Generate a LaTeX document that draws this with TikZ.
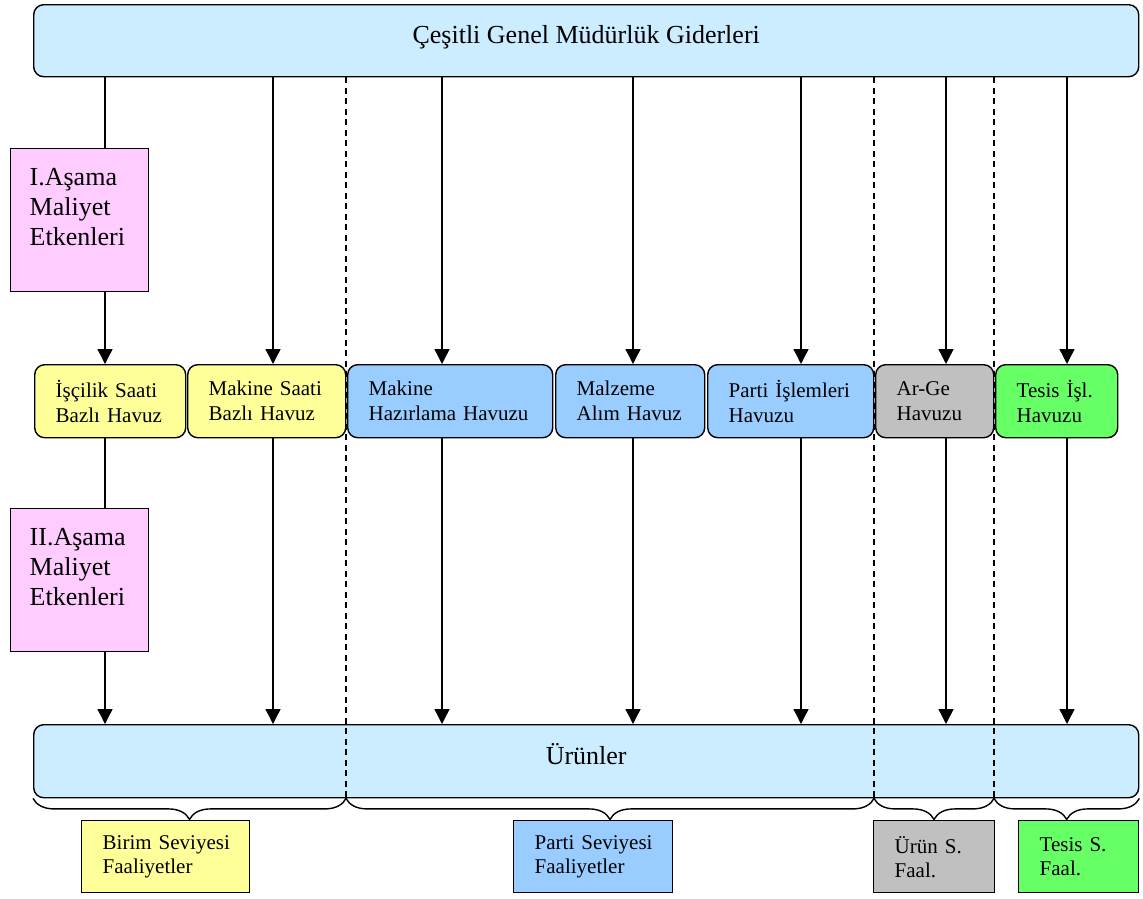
\documentclass[tikz,border=0pt]{standalone}
\usepackage{fontspec}
\setmainfont{Liberation Serif}
\usetikzlibrary{arrows.meta,decorations.pathreplacing}

\definecolor{barblue}{HTML}{CCECFF}
\definecolor{poolyellow}{HTML}{FFFF99}
\definecolor{poolblue}{HTML}{99CCFF}
\definecolor{poolgray}{HTML}{C0C0C0}
\definecolor{poolgreen}{HTML}{66FF66}
\definecolor{stagepink}{HTML}{FFCCFF}

\tikzset{
  outline/.style={draw=black, line width=1.4pt},
  bar/.style={outline, fill=barblue, rounded corners=10pt, anchor=north west,
    minimum width=1105pt, inner sep=0pt, font=\fontsize{26}{30}\selectfont},
  pool/.style={outline, rounded corners=10pt, anchor=north west, align=left,
    minimum height=73pt, inner xsep=21pt, inner ysep=0pt,
    font=\fontsize{21}{25}\selectfont},
  stagebox/.style={outline, fill=stagepink, anchor=north west,
    inner xsep=19pt, inner ysep=20pt, font=\fontsize{26}{30}\selectfont},
  levelbox/.style={outline, anchor=north west, align=left,
    minimum height=72pt, inner xsep=21pt, inner ysep=0pt,
    font=\fontsize{21}{24}\selectfont},
  conn/.style={line width=1.4pt},
  arr/.style={conn, -{Triangle[width=15pt,length=15pt]}},
  divider/.style={line width=1.3pt, dash pattern=on 6pt off 4.5pt},
  brace/.style={line width=1.4pt, decorate,
    decoration={brace, mirror, amplitude=21pt}},
}

\begin{document}
\begin{tikzpicture}[x=1pt,y=-1pt]
\useasboundingbox (0,0) rectangle (1143,898);

% arrow columns and section dividers
\coordinate (a1) at (105,0);
\coordinate (a2) at (273,0);
\coordinate (a3) at (442,0);
\coordinate (a4) at (633,0);
\coordinate (a5) at (801,0);
\coordinate (a6) at (946,0);
\coordinate (a7) at (1067,0);
\coordinate (d1) at (346,0);
\coordinate (d2) at (874,0);
\coordinate (d3) at (994,0);

% top and bottom bars
\node[bar, minimum height=72pt] (gen) at (33,4)
  {\raisebox{12pt}{Çeşitli Genel Müdürlük Giderleri}};
\node[bar, minimum height=73pt] (urun) at (33,724)
  {\raisebox{15pt}{Ürünler}};

% dashed section dividers
\draw[divider] (gen.south -| d1) -- (urun.south -| d1);
\draw[divider] (gen.south -| d2) -- (urun.south -| d2);
\draw[divider] (gen.south -| d3) -- (urun.south -| d3);

% cost driver stages
\node[stagebox] (s1) at (10,148)
  {\parbox[c][103pt][t]{100pt}{\raggedright I.Aşama\\Maliyet\\Etkenleri}};
\node[stagebox] (s2) at (10,508)
  {\parbox[c][103pt][t]{100pt}{\raggedright II.Aşama\\Maliyet\\Etkenleri}};

% cost pools
\node[pool, fill=poolyellow, text width=109pt] (p1) at (34,364)
  {\mbox{İşçilik Saati}\\\mbox{Bazlı Havuz}};
\node[pool, fill=poolyellow, text width=116pt] (p2) at (187,364)
  {\mbox{Makine Saati}\\\mbox{Bazlı Havuz}};
\node[pool, fill=poolblue, text width=163pt] (p3) at (347,364)
  {Makine\\\mbox{Hazırlama Havuzu}};
\node[pool, fill=poolblue, text width=107pt] (p4) at (555,364)
  {Malzeme\\\mbox{Alım Havuz}};
\node[pool, fill=poolblue, text width=124pt] (p5) at (707,364)
  {\mbox{Parti İşlemleri}\\Havuzu};
\node[pool, fill=poolgray, text width=76pt] (p6) at (875,364)
  {Ar-Ge\\Havuzu};
\node[pool, fill=poolgreen, text width=80pt] (p7) at (995,364)
  {\mbox{Tesis İşl.}\\Havuzu};

% activity levels
\node[levelbox, fill=poolyellow, text width=126pt] (l1) at (81,820)
  {\mbox{Birim Seviyesi}\\Faaliyetler};
\node[levelbox, fill=poolblue, text width=117pt] (l2) at (513,820)
  {\mbox{Parti Seviyesi}\\Faaliyetler};
\node[levelbox, fill=poolgray, text width=79pt] (l3) at (873,820)
  {\mbox{Ürün S.}\\Faal.};
\node[levelbox, fill=poolgreen, text width=78pt] (l4) at (1018,820)
  {\mbox{Tesis S.}\\Faal.};

% first column passes through both stage boxes
\draw[conn] (gen.south -| a1) -- (s1.north -| a1);
\draw[arr]  (s1.south -| a1) -- (p1.north -| a1);
\draw[conn] (p1.south -| a1) -- (s2.north -| a1);
\draw[arr]  (s2.south -| a1) -- (urun.north -| a1);

% remaining columns
\foreach \i in {2,...,7} {
  \draw[arr] (gen.south -| a\i) -- (p\i.north -| a\i);
  \draw[arr] (p\i.south -| a\i) -- (urun.north -| a\i);
}

% braces grouping the sections
\draw[brace] (urun.south west) -- (urun.south -| d1);
\draw[brace] (urun.south -| d1) -- (urun.south -| d2);
\draw[brace] (urun.south -| d2) -- (urun.south -| d3);
\draw[brace] (urun.south -| d3) -- (urun.south east);
\end{tikzpicture}
\end{document}
